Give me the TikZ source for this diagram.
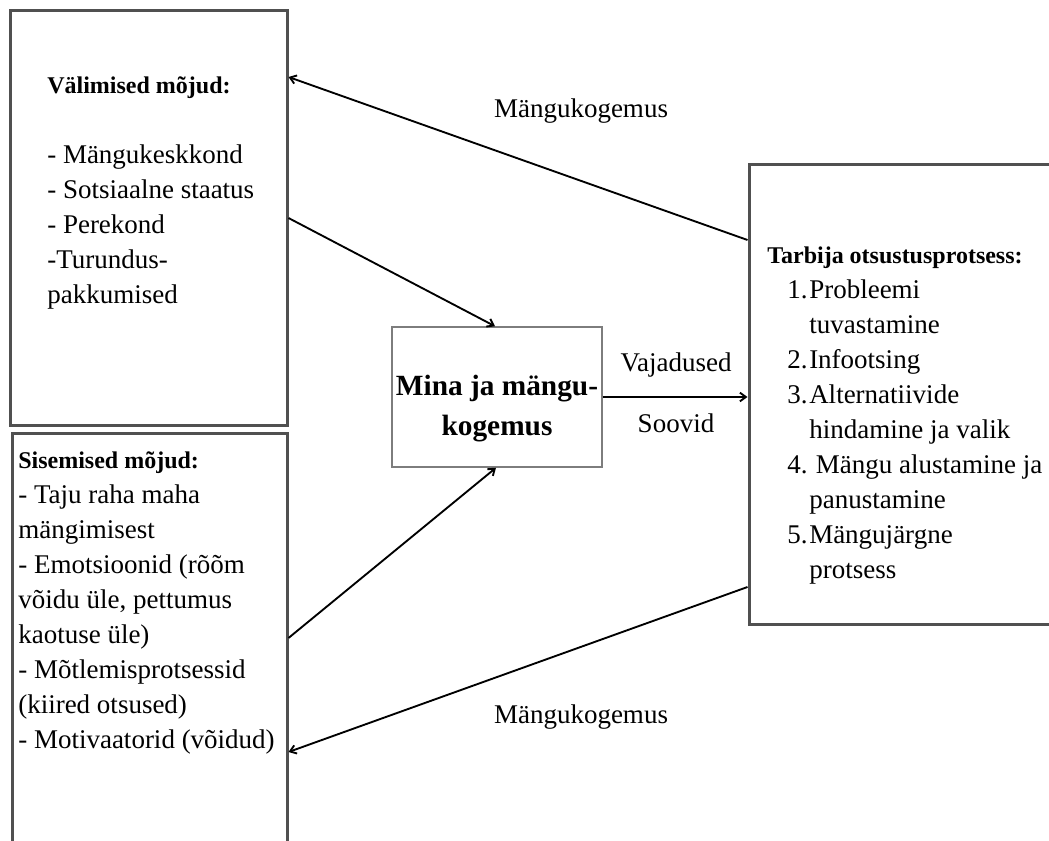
\documentclass[tikz,border=0pt]{standalone}
\usepackage{fontspec}
\setmainfont{Liberation Serif}
\usetikzlibrary{arrows.meta,fit}
\definecolor{frame}{RGB}{80,80,80}
\definecolor{thinframe}{RGB}{125,125,125}
\tikzset{
 bigbox/.style={draw=frame, line width=2.25pt, inner sep=0pt},
 midbox/.style={draw=thinframe, line width=1.1pt, inner sep=0pt},
 arr/.style={line width=1.4pt, -{Straight Barb[length=4.5pt,width=6.5pt]}},
 body/.style={font=\fontsize{20.25}{26.25}\selectfont, align=left, inner sep=0pt, anchor=north west},
 lbl/.style={font=\fontsize{20.25}{26.25}\selectfont, inner sep=0pt, anchor=base},
}
\newcommand\hdr[1]{{\fontsize{18}{26.25}\selectfont\bfseries #1}}
\newcommand\itm[1]{\hspace*{15pt}\makebox[16.5pt][l]{#1}}
\begin{document}
\begin{tikzpicture}[x=0.75pt,y=-0.75pt]
\useasboundingbox (0,0) rectangle (1049,841);
\clip (0,0) rectangle (1049,841);
% boxes
\node[bigbox, fit={(10,11) (287,425)}] (A) {};
\node[bigbox, fit={(12,433) (287,900)}] (B) {};
\node[bigbox, fit={(749,165) (1110,624)}] (R) {};
\node[midbox, fit={(392,327) (602,467)}] (M) {};
% texts
\node[body] (tA) at (47,68.5) {\strut\hdr{Välimised mõjud:}\\[26.25pt]
- Mängukeskkond\\ - Sotsiaalne staatus\\ - Perekond\\ -Turundus-\\ pakkumised};
\node[body] (tB) at (18,443.5) {\strut\hdr{Sisemised mõjud:}\\
- Taju raha maha\\ mängimisest\\ - Emotsioonid (rõõm\\ võidu üle, pettumus\\ kaotuse üle)\\
- Mõtlemisprotsessid\\ (kiired otsused)\\ - Motivaatorid (võidud)};
\node[body] (tR) at (767,238.5) {\strut\hdr{Tarbija otsustusprotsess:}\\
\itm{1.}Probleemi\\ \itm{}tuvastamine\\ \itm{2.}Infootsing\\ \itm{3.}Alternatiivide\\
\itm{}hindamine ja valik\\ \itm{4.}\hspace*{5pt}Mängu alustamine ja\\ \itm{}panustamine\\
\itm{5.}Mängujärgne\\ \itm{}protsess};
\node[font=\fontsize{22}{30}\selectfont\bfseries, align=center, inner sep=0pt, anchor=north] (tM) at (497,367) {\strut Mina ja mängu-\\ kogemus};
\node[lbl] (l1) at (581,118) {Mängukogemus};
\node[lbl] (l2) at (581,723) {Mängukogemus};
\node[lbl] (l3) at (676,372) {Vajadused};
\node[lbl] (l4) at (676,432) {Soovid};
% connectors
\draw[arr] (R.west |- 0,240) -- (A.east |- 0,77);
\draw[arr] (A.east |- 0,218) -- (M.north -| 495,0);
\draw[arr] (B.east |- 0,638) -- (M.south -| 496,0);
\draw[arr] (R.west |- 0,587) -- (B.east |- 0,752);
\draw[arr] (M.east) -- (R.west |- M.east);
\end{tikzpicture}
\end{document}
